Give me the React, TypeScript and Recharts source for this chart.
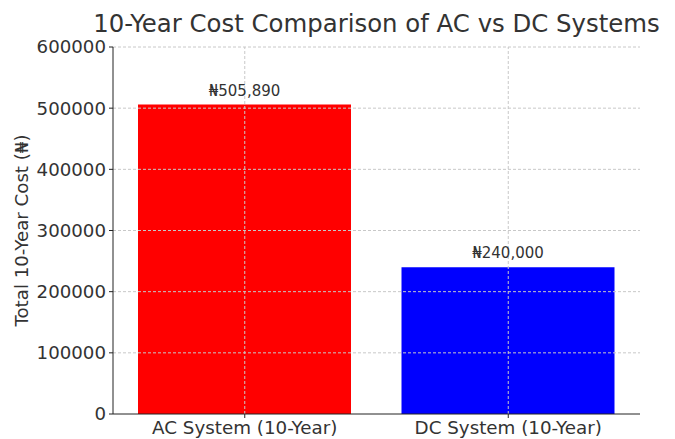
import React from 'react';
import { BarChart, Bar, XAxis, YAxis, ReferenceLine, LabelList, Cell } from 'recharts';

const categories = ['AC System (10-Year)', 'DC System (10-Year)'];
const costs = [505890, 240000];
const barColors = ['#ff0000', '#0000ff'];
const yTicks = [0, 100000, 200000, 300000, 400000, 500000, 600000];
const title = '10-Year Cost Comparison of AC vs DC Systems';
const yLabel = 'Total 10-Year Cost (₦)';

const data = categories.map((name, i) => ({ name, cost: costs[i] }));

const FONT = '"DejaVu Sans", sans-serif';
const TEXT = '#333333';
const GRID = '#c8c8c8';

export default function App() {
  return (
    <div style={{ position: 'absolute', left: 0, top: 0, width: 675, height: 439, background: '#fff', fontFamily: FONT, overflow: 'hidden' }}>
      <div
        style={{
          position: 'absolute',
          left: 0,
          width: 753,
          top: 6,
          textAlign: 'center',
          fontSize: 24.4,
          color: TEXT,
          whiteSpace: 'nowrap',
          lineHeight: '36px',
        }}
      >
        {title}
      </div>
      <BarChart
        width={675}
        height={439}
        data={data}
        margin={{ top: 47, right: 35, bottom: 0, left: 0 }}
        barCategoryGap={25}
      >
        <XAxis
          dataKey="name"
          height={25}
          axisLine={{ stroke: '#222' }}
          tickLine={{ stroke: '#222' }}
          tickSize={4}
          tickMargin={3}
          tick={{ fill: TEXT, fontSize: 18.3, fontFamily: FONT }}
        />
        <YAxis
          width={113}
          domain={[0, 600000]}
          ticks={yTicks}
          interval={0}
          axisLine={{ stroke: '#222' }}
          tickLine={{ stroke: '#222' }}
          tickSize={4}
          tickMargin={3}
          tick={{ fill: TEXT, fontSize: 18.2, fontFamily: FONT }}
          tickFormatter={(v: number) => String(v)}
          label={{
            value: yLabel,
            angle: -90,
            position: 'insideLeft',
            offset: 22,
            textAnchor: 'middle',
            style: { fill: TEXT, fontSize: 18.2, fontFamily: FONT, textAnchor: 'middle' },
          }}
        />
        <Bar dataKey="cost" isAnimationActive={false} barSize={213}>
          {data.map((d, i) => (
            <Cell key={d.name} fill={barColors[i]} />
          ))}
          <LabelList
            dataKey="cost"
            position="top"
            offset={9}
            formatter={(v: number) => '₦' + Number(v).toLocaleString('en-US')}
            style={{ fill: TEXT, fontSize: 15, fontFamily: FONT }}
          />
        </Bar>
        {yTicks.slice(1).map((t) => (
          <ReferenceLine key={'y' + t} y={t} stroke={GRID} strokeDasharray="3 2" strokeWidth={1} />
        ))}
        {categories.map((c) => (
          <ReferenceLine key={'x' + c} x={c} stroke={GRID} strokeDasharray="3 2" strokeWidth={1} />
        ))}
      </BarChart>
    </div>
  );
}
